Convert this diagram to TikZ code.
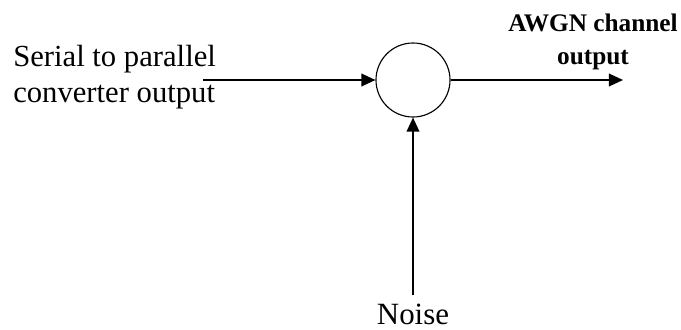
\documentclass[tikz,border=0pt]{standalone}
\usepackage{fontspec}
\setmainfont{Liberation Serif}
\usetikzlibrary{positioning}
\usetikzlibrary{arrows.meta}

\begin{document}
\begin{tikzpicture}[x=0.025cm,y=-0.025cm,
	every node/.style={inner sep=0pt},
	flow/.style={line width=1.2pt,-{Triangle[length=10pt,width=9pt]}},
	adder/.style={draw,circle,line width=0.8pt,minimum size=1.85cm}]
	%% some definitions
	\def\ly{80} % level of the signal line

	\useasboundingbox (0,0) rectangle (681,329);

	% summing point
	\node[adder] (sum) at (413,\ly) {};

	% labels
	\node[anchor=north west,align=left,font=\fontsize{21.8}{25.5}\selectfont] (inlabel) at (13,45) {Serial to parallel\\converter output};
	\node[anchor=north,align=center,font=\fontsize{18}{23.5}\selectfont\bfseries] (outlabel) at (593,14) {AWGN channel\\output};
	\node[anchor=base,font=\fontsize{22}{26}\selectfont] (noise) at (413,324) {Noise};

	% free ends of the connectors
	\coordinate (in) at (203,\ly);
	\coordinate (out) at (623,\ly);
	\coordinate (nz) at (413,295);

	\draw[flow] (in) -- (sum.west);
	\draw[flow] (sum.east) -- (out);
	\draw[flow] (nz) -- (sum.south);
\end{tikzpicture}
\end{document}
